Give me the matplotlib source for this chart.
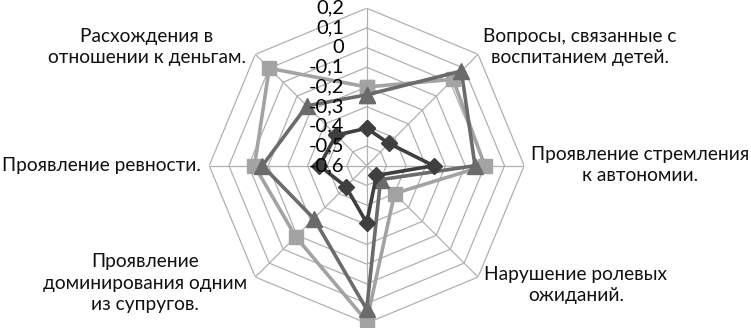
import numpy as np
import matplotlib
matplotlib.use("Agg")
import matplotlib.pyplot as plt

plt.rcParams['font.family'] = ['Lato', 'DejaVu Sans']

categories = [
    "",
    "Вопросы, связанные с\nвоспитанием детей.",
    "Проявление стремления\nк автономии.",
    "Нарушение ролевых\nожиданий.",
    "",
    "Проявление\nдоминирования одним\nиз супругов.",
    "Проявление ревности.",
    "Расхождения в\nотношении к деньгам.",
]
series_square = [-0.20, 0.02, 0.00, -0.40, 0.19, -0.09, -0.03, 0.10]
series_triangle = [-0.24, 0.08, -0.05, -0.50, 0.13, -0.22, -0.07, -0.17]
series_diamond = [-0.41, -0.44, -0.26, -0.53, -0.31, -0.45, -0.36, -0.38]
tick_values = [-0.6, -0.5, -0.4, -0.3, -0.2, -0.1, 0.0, 0.1, 0.2]
tick_labels = ["-0,6", "-0,5", "-0,4", "-0,3", "-0,2", "-0,1", "0", "0,1", "0,2"]

W, H = 751, 328
fig = plt.figure(figsize=(W / 100, H / 100), dpi=100)
cx, cy, R = 366.7, 165.7, 157.5
ax = fig.add_axes([(cx - R) / W, (H - cy - R) / H, 2 * R / W, 2 * R / H], projection='polar')
ax.set_theta_offset(np.pi / 2)
ax.set_theta_direction(-1)
ax.set_ylim(tick_values[0], tick_values[-1])
ax.grid(False)
ax.set_xticks([])
ax.set_yticks([])
ax.spines['polar'].set_visible(False)
ax.patch.set_alpha(0)

n = len(categories)
theta = np.arange(n) * 2 * np.pi / n
theta_c = np.append(theta, theta[0])

grid_col = '#b0b0b0'
for v in tick_values[1:]:
    ax.plot(theta_c, [v] * (n + 1), color=grid_col, lw=0.9, zorder=1)
for t in theta:
    ax.plot([t, t], [tick_values[0], tick_values[-1]], color=grid_col, lw=0.9, zorder=1)

def draw(vals, color, marker, ms):
    v = np.append(vals, vals[0])
    ax.plot(theta_c, v, color=color, lw=2.6, marker=marker, markersize=ms,
            markeredgecolor=color, markerfacecolor=color, zorder=3, clip_on=False)

draw(series_square, '#a3a3a3', 's', 10.5)
draw(series_triangle, '#6b6b6b', '^', 11)
draw(series_diamond, '#3f3f3f', 'D', 8)

for v, lab in zip(tick_values, tick_labels):
    ax.annotate(lab, xy=(0, v), xytext=(-16, 0), textcoords='offset points',
                ha='right', va='center', fontsize=14.5, color='black', zorder=5,
                annotation_clip=False)

label_pos = {
    1: (580, 47),
    2: (640, 165),
    3: (576, 285),
    5: (145, 283),
    6: (101, 166),
    7: (147, 47),
}
for i, (px, py) in label_pos.items():
    fig.text(px / W, 1 - py / H, categories[i], ha='center', va='center',
             fontsize=13.8, linespacing=1.35, color='#111111')

fig.savefig('out.png', dpi=100, facecolor='white')
